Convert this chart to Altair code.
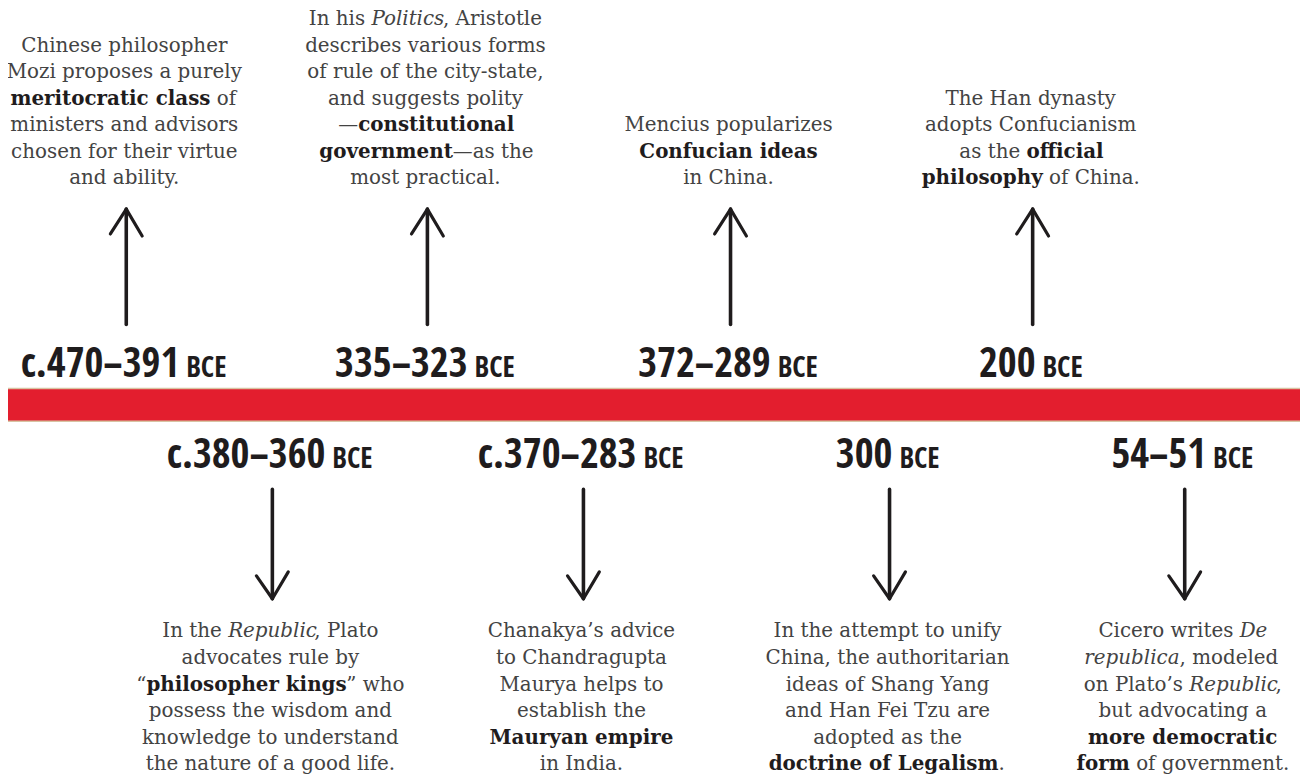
import re
import altair as alt
import pandas as pd

# ---------------- data ----------------
top_dates = ["c.470–391", "335–323", "372–289", "200"]
bottom_dates = ["c.380–360", "c.370–283", "300", "54–51"]
era = "BCE"

top_texts = [
    ["Chinese philosopher", "Mozi proposes a purely", "**meritocratic class** of",
     "ministers and advisors", "chosen for their virtue", "and ability."],
    ["In his *Politics*, Aristotle", "describes various forms", "of rule of the city-state,",
     "and suggests polity", "—**constitutional**", "**government**—as the", "most practical."],
    ["Mencius popularizes", "**Confucian ideas**", "in China."],
    ["The Han dynasty", "adopts Confucianism", "as the **official**", "**philosophy** of China."],
]
bottom_texts = [
    ["In the *Republic*, Plato", "advocates rule by", "“**philosopher kings**” who",
     "possess the wisdom and", "knowledge to understand", "the nature of a good life."],
    ["Chanakya’s advice", "to Chandragupta", "Maurya helps to", "establish the",
     "**Mauryan empire**", "in India."],
    ["In the attempt to unify", "China, the authoritarian", "ideas of Shang Yang",
     "and Han Fei Tzu are", "adopted as the", "**doctrine of Legalism**."],
    ["Cicero writes *De*", "*republica*, modeled", "on Plato’s *Republic*,",
     "but advocating a", "**more democratic**", "**form** of government."],
]

# ---------------- layout / style ----------------
TOP_X = [125, 428, 733, 1037]
BOT_X = [272, 585, 893, 1190]
W, H = 1300, 769
FS = 20            # description font size
LH = 26.7          # line height
TOP_LAST_BASE = 183
BOT_FIRST_BASE = 639
TOP_DATE_BASE = 377
BOT_DATE_BASE = 468
NUM_FS = 41
ERA_FS = 29
DATE_FONT = "Open Sans Condensed"
SERIF = "DejaVu Serif"
RED = "#e31e2e"
INK = "#1f1c1d"
REG_COL = "#434343"

REG = dict(zip("abcdefghijklmnopqrstuvwxyz",
               [596, 640, 560, 640, 592, 370, 640, 644, 320, 310, 606, 320, 948, 644, 602,
                640, 640, 478, 513, 402, 644, 565, 856, 564, 565, 527]))
REG.update(zip("ABCDEFGHIJKLMNOPQRSTUVWXYZ",
               [722, 735, 733, 802, 729, 694, 799, 872, 395, 401, 747, 664, 1024, 875, 820,
                673, 820, 753, 685, 667, 843, 722, 1028, 712, 660, 695]))
REG.update({" ": 318, ".": 318, ",": 318, "-": 338, "—": 1000, "“": 518, "”": 518, "’": 318})
BOLD = dict(zip("abcdefghijklmnopqrstuvwxyz",
                [675, 714, 592, 714, 678, 435, 714, 770, 385, 373, 752, 385, 1141, 770, 687,
                 714, 714, 577, 595, 478, 770, 652, 935, 709, 652, 607]))
BOLD.update(zip("ABCDEFGHIJKLMNOPQRSTUVWXYZ",
                [776, 845, 800, 872, 794, 746, 857, 947, 469, 473, 835, 741, 1096, 942, 853,
                 787, 853, 844, 742, 767, 908, 776, 1163, 787, 729, 757]))
BOLD.update({" ": 348, ".": 379, ",": 379, "-": 415, "—": 1000, "“": 548, "”": 548, "’": 379})
CONDENSED = {"c": 410, ".": 220, "–": 450, "B": 490, "C": 460, "E": 420}


def text_w(t, style):
    table = BOLD if style == "b" else REG
    f = {"b": 0.955, "i": 0.97}.get(style, 1.0)
    return sum(table.get(ch, 620) for ch in t) * f / 1000 * FS


def date_w(t, size):
    return sum(CONDENSED.get(ch, 460) for ch in t) / 1000 * size


def parse(line):
    parts = re.split(r"(\*\*.+?\*\*|\*.+?\*)", line)
    segs, pending = [], False
    for p in parts:
        if not p:
            continue
        if p.startswith("**"):
            style, t = "b", p[2:-2]
        elif p.startswith("*"):
            style, t = "i", p[1:-1]
        else:
            style, t = "r", p
        lead, trail = t.startswith(" "), t.endswith(" ")
        t = t.strip()
        if not t:
            pending = True
            continue
        segs.append((t, style, pending or lead))
        pending = trail
    return segs


rows = []


def add_lines(lines, cx, bases):
    for line, base in zip(lines, bases):
        segs = parse(line)
        if len(segs) == 1:
            rows.append(dict(x=cx, y=base, text=segs[0][0], style=segs[0][1], align="center"))
            continue
        ws = [text_w(t, s) for t, s, _ in segs]
        gaps = [(REG[" "] / 1000 * FS if sp else 0) for _, _, sp in segs]
        total = sum(ws) + sum(gaps[1:])
        pivot = cx - total / 2 + ws[0]
        rows.append(dict(x=pivot, y=base, text=segs[0][0], style=segs[0][1], align="right"))
        cur = pivot
        for k in range(1, len(segs)):
            cur += gaps[k]
            rows.append(dict(x=cur, y=base, text=segs[k][0], style=segs[k][1], align="left"))
            cur += ws[k]


for lines, cx in zip(top_texts, TOP_X):
    n = len(lines)
    add_lines(lines, cx, [TOP_LAST_BASE - (n - 1 - i) * LH for i in range(n)])
for lines, cx in zip(bottom_texts, BOT_X):
    add_lines(lines, cx, [BOT_FIRST_BASE + i * LH for i in range(len(lines))])
desc = pd.DataFrame(rows)

GAP = 7
drows = []
for dates, xs_, base in ((top_dates, TOP_X, TOP_DATE_BASE), (bottom_dates, BOT_X, BOT_DATE_BASE)):
    for d, cx in zip(dates, xs_):
        wn, we = date_w(d, NUM_FS), date_w(era, ERA_FS)
        anchor = cx + (wn - GAP - we) / 2
        drows.append(dict(x=anchor, xe=anchor + GAP, y=base, num=d, era=era))
dates_df = pd.DataFrame(drows)

# arrows
arows = []
for cx in TOP_X:
    x = cx + 2
    arows.append(dict(x=x, x2=x, y=208, y2=324, w=3.6))
    arows.append(dict(x=x, x2=x - 16, y=208, y2=233, w=3.2))
    arows.append(dict(x=x, x2=x + 16, y=208, y2=235, w=3.2))
for cx in BOT_X:
    x = cx + 2
    arows.append(dict(x=x, x2=x, y=490, y2=600, w=3.6))
    arows.append(dict(x=x, x2=x - 16, y=600, y2=577, w=3.2))
    arows.append(dict(x=x, x2=x + 16, y=600, y2=573, w=3.2))
arrows = pd.DataFrame(arows)

band = pd.DataFrame([dict(y=388, y2=422)])
edges = pd.DataFrame([dict(y=388.5), dict(y=421.5)])

xs = alt.Scale(domain=[8, 8 + W], nice=False, zero=False)
ys = alt.Scale(domain=[8, 8 + H], reverse=True, nice=False, zero=False)
X = lambda f: alt.X(f, type="quantitative", scale=xs, axis=None)
Y = lambda f: alt.Y(f, type="quantitative", scale=ys, axis=None)

layers = []
layers.append(alt.Chart(band).mark_rect(color=RED).encode(
    x=alt.value(0), x2=alt.value(W), y=Y("y"), y2="y2"))
layers.append(alt.Chart(edges).mark_rule(color="#d8c3a3", strokeWidth=1.5).encode(
    x=alt.value(0), x2=alt.value(W), y=Y("y")))
layers.append(alt.Chart(arrows).mark_rule(color=INK, strokeCap="round").encode(
    x=X("x"), x2="x2", y=Y("y"), y2="y2",
    strokeWidth=alt.StrokeWidth("w:Q", scale=None, legend=None)))

for style, weight, fstyle, col in (("r", "normal", "normal", REG_COL),
                                   ("b", "bold", "normal", INK),
                                   ("i", "normal", "italic", REG_COL)):
    for al in ("left", "right", "center"):
        sub = desc[(desc["style"] == style) & (desc["align"] == al)]
        if len(sub) == 0:
            continue
        layers.append(alt.Chart(sub).mark_text(
            align=al, baseline="alphabetic", font=SERIF, fontSize=FS,
            fontWeight=weight, fontStyle=fstyle, color=col).encode(
            x=X("x"), y=Y("y"), text="text:N"))

layers.append(alt.Chart(dates_df).mark_text(
    align="right", baseline="alphabetic", font=DATE_FONT, fontSize=NUM_FS,
    fontWeight="bold", color=INK).encode(x=X("x"), y=Y("y"), text="num:N"))
layers.append(alt.Chart(dates_df).mark_text(
    align="left", baseline="alphabetic", font=DATE_FONT, fontSize=ERA_FS,
    fontWeight="bold", color=INK).encode(x=X("xe"), y=Y("y"), text="era:N"))

chart = alt.layer(*layers).properties(
    width=W, height=H, padding=0, autosize="none", background="white"
).configure_view(stroke=None)

chart.save("out.html", embed_options={"renderer": "svg", "actions": False})
